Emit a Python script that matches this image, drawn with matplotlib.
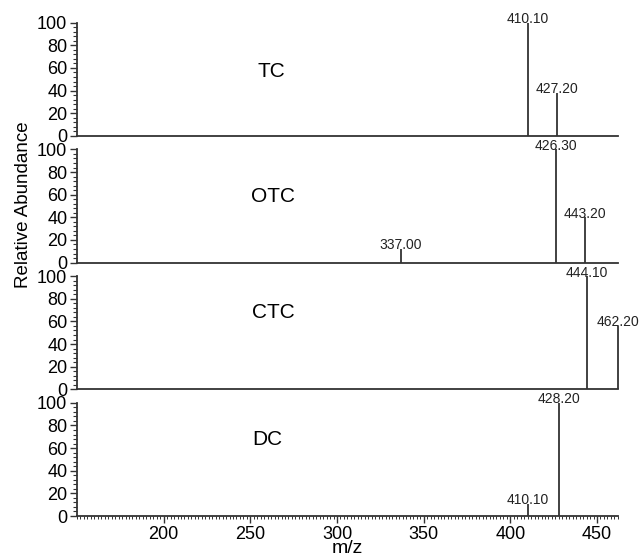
import matplotlib.pyplot as plt
from matplotlib.ticker import MultipleLocator, FixedLocator

plt.rcParams['font.family'] = ['Liberation Sans', 'DejaVu Sans']

names = ['TC', 'OTC', 'CTC', 'DC']
mz = [[410.10, 427.20], [337.00, 426.30, 443.20], [444.10, 462.20], [410.10, 428.20]]
abund = [[100, 38], [12, 100, 40], [100, 56], [11, 100]]
name_pos = [(262, 57), (263, 58), (263, 68), (260, 68)]

fig = plt.figure(figsize=(6.43, 5.57), dpi=100)
left, width = 0.1198, 0.8415
bottom0, h = 0.0736, 0.2275

for i in range(4):
    ax = fig.add_axes([left, bottom0 + (3 - i) * h, width, h])
    ax.vlines(mz[i], 0, abund[i], color='#333333', lw=1.3, clip_on=False)
    for x, y in zip(mz[i], abund[i]):
        ax.text(x, y - 3, '%.2f' % x, ha='center', va='bottom', fontsize=10, color='#222222')
    ax.text(name_pos[i][0], name_pos[i][1], names[i], ha='center', va='center', fontsize=15)
    ax.set_xlim(150, 462.2)
    ax.set_ylim(0, 112)
    ax.set_yticks([0, 20, 40, 60, 80, 100])
    ax.yaxis.set_minor_locator(FixedLocator([v for v in range(0, 101, 4) if v % 20]))
    ax.spines['top'].set_visible(False)
    ax.spines['right'].set_visible(False)
    ax.spines['left'].set_bounds(0, 100)
    for s in ('left', 'bottom'):
        ax.spines[s].set_color('#333333')
        ax.spines[s].set_linewidth(1.3)
    ax.tick_params(axis='y', which='major', length=5, width=1, labelsize=13, pad=2, color='#333333')
    ax.tick_params(axis='y', which='minor', length=3, width=0.8, color='#333333')
    if i < 3:
        ax.tick_params(axis='x', which='both', bottom=False, labelbottom=False)
    else:
        ax.set_xticks([200, 250, 300, 350, 400, 450])
        ax.xaxis.set_minor_locator(MultipleLocator(2))
        ax.tick_params(axis='x', which='major', length=5, width=1, labelsize=13, pad=2, color='#333333')
        ax.tick_params(axis='x', which='minor', length=2.5, width=0.7, color='#333333')
        ax.set_xlabel('m/z', fontsize=14, labelpad=-2)
    ax.patch.set_alpha(0)

fig.text(24 / 643, 1 - 205 / 557, 'Relative Abundance', rotation=90, ha='center', va='center', fontsize=13.5)

fig.savefig('out.png', dpi=100)
